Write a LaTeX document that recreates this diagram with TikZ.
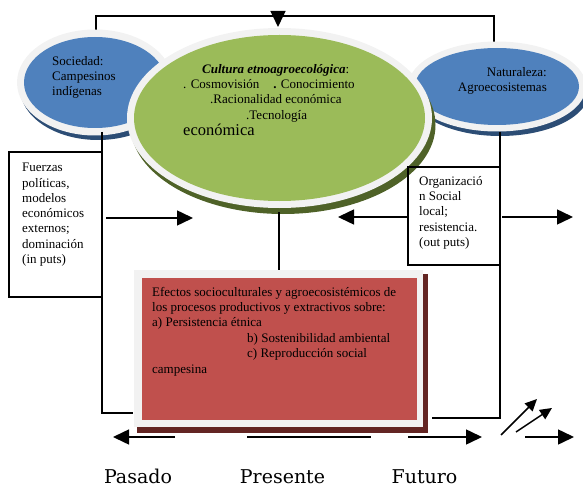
\documentclass[tikz,border=0pt]{standalone}
\usepackage{fontspec}
\setmainfont{Liberation Serif}
\newfontfamily\timelinefont{DejaVu Serif}
\usetikzlibrary{arrows.meta}

\definecolor{blueFill}{HTML}{4F81BD}
\definecolor{blueShade}{HTML}{2C4D75}
\definecolor{greenFill}{HTML}{9BBB59}
\definecolor{greenShade}{HTML}{4F6228}
\definecolor{redFill}{HTML}{C0504D}
\definecolor{redShade}{HTML}{632523}
\definecolor{rim}{HTML}{F2F2F2}

\tikzset{
  link/.style={line width=1.5pt, line join=miter},
  tip/.style={link, -{Triangle[length=16pt,width=15pt]}},
  smalltip/.style={link, -{Triangle[length=12pt,width=11pt]}},
  body/.style={font=\fontsize{13}{15.3}\selectfont, inner sep=0pt, align=left},
  infobox/.style={draw, line width=1.5pt},
  era/.style={font=\timelinefont\fontsize{19}{22}\selectfont, anchor=base, inner sep=0pt},
}

\begin{document}
\begin{tikzpicture}[x=1pt, y=-1pt]
\useasboundingbox (0,0) rectangle (583,489);

% connector end points
\coordinate (socTop) at (96,30);
\coordinate (natTop) at (494,43);
\coordinate (socBot) at (102,132);
\coordinate (natBot) at (500,132);
\coordinate (culBot) at (279,212);
\coordinate (efTop) at (279,271);
\coordinate (efLeft) at (133,413);
\coordinate (efRight) at (432,418);

% feedback line over the top
\draw[link] (socTop) -- (96,16) -- (494,16) -- (natTop);
\coordinate (fbStart) at (278,14);
\coordinate (fbEnd) at (278,27);
\draw[tip] (fbStart) -- (fbEnd);

% Sociedad ellipse
\fill[blueShade] (98,88) ellipse [x radius=78, y radius=52];
\fill[rim] (95,82.5) ellipse [x radius=78, y radius=53];
\fill[blueFill] (95,82.5) ellipse [x radius=71, y radius=45.5];

% Naturaleza ellipse
\fill[blueShade] (500,92) ellipse [x radius=89, y radius=44];
\fill[rim] (497,86.5) ellipse [x radius=89, y radius=45];
\fill[blueFill] (497,86.5) ellipse [x radius=82, y radius=38.5];

% Cultura ellipse
\fill[greenShade] (283,125) ellipse [x radius=152.5, y radius=89];
\fill[rim] (279.5,118) ellipse [x radius=152.5, y radius=90];
\fill[greenFill] (279.5,118) ellipse [x radius=145.5, y radius=83];

\node[body, anchor=north west] (soc) at (52,56) {Sociedad:\\Campesinos\\indígenas};
\node[body, anchor=north east, align=right] (nat) at (547,67) {Naturaleza:\\Agroecosistemas};

\node[body, anchor=north west] (cul) at (183,64)
  {\hspace*{19pt}\textbf{\textit{Cultura etnoagroecológica}}:\\
   . Cosmovisión\hspace{14pt}\textbf{.} Conocimiento\\
   \hspace*{27pt}.Racionalidad económica\\
   \hspace*{63pt}.Tecnología\\[1pt]
   {\fontsize{16.5}{18}\selectfont económica}};

% inputs box on the left
\draw[infobox] (9,152) rectangle (102,297);
\node[body, anchor=north west] (inp) at (22,163)
  {Fuerzas\\políticas,\\modelos\\económicos\\externos;\\dominación\\(in puts)};
\draw[link] (socBot) -- (102,413) -- (efLeft);
\coordinate (inpOut) at (106,218);
\coordinate (culIn) at (193,218);
\draw[tip] (inpOut) -- (culIn);

% outputs box on the right
\draw[infobox] (408,167) rectangle (500,265);
\node[body, anchor=north west] (out) at (419,176)
  {Organizació\\n Social\\local;\\resistencia.\\(out puts)};
\draw[link] (natBot) -- (500,418) -- (efRight);
\coordinate (outLeft) at (408,217);
\coordinate (culOut) at (338,217);
\coordinate (outRight) at (502,217);
\coordinate (outEnd) at (573,217);
\draw[tip] (outLeft) -- (culOut);
\draw[tip] (outRight) -- (outEnd);

% link from Cultura down to the effects box
\draw[link] (culBot) -- (efTop);

% effects box
\fill[redShade] (137,274) rectangle (428,433);
\fill[rim] (134,270) rectangle (423,427);
\fill[redFill] (142,278) rectangle (417,420);
\node[body, anchor=north west] (ef) at (152,287)
  {Efectos socioculturales y agroecosistémicos de\\
   los procesos productivos y extractivos sobre:\\
   a) Persistencia étnica\\
   \hspace*{95pt}b) Sostenibilidad ambiental\\
   \hspace*{95pt}c) Reproducción social\\[1pt]
   campesina};

% time line
\coordinate (pastA) at (175,437);
\coordinate (pastB) at (113,437);
\coordinate (nowA) at (247,437);
\coordinate (nowB) at (371,437);
\coordinate (futA) at (408,437);
\coordinate (futB) at (482,437);
\coordinate (upA) at (501,435);
\coordinate (upAtip) at (537,399);
\coordinate (upB) at (516,432);
\coordinate (upBtip) at (552,408);
\coordinate (farA) at (525,437);
\coordinate (farB) at (574,437);
\draw[tip] (pastA) -- (pastB);
\draw[link] (nowA) -- (nowB);
\draw[tip] (futA) -- (futB);
\draw[smalltip] (upA) -- (upAtip);
\draw[smalltip] (upB) -- (upBtip);
\draw[tip] (farA) -- (farB);

\node[era] (past) at (138,483) {Pasado};
\node[era] (present) at (282.5,483) {Presente};
\node[era] (future) at (424.5,483) {Futuro};
\end{tikzpicture}
\end{document}
